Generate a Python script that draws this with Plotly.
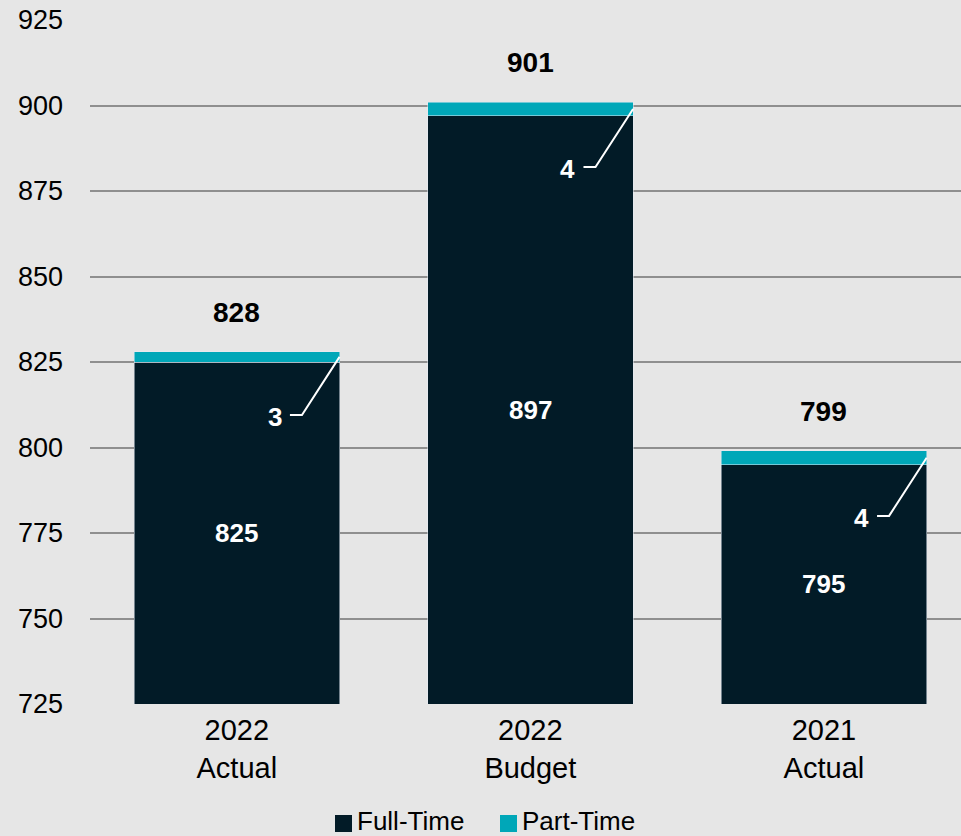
import plotly.graph_objects as go

categories = ["2022<br>Actual", "2022<br>Budget", "2021<br>Actual"]
full_time = [825, 897, 795]
part_time = [3, 4, 4]
totals = [828, 901, 799]
series_names = ["Full-Time", "Part-Time"]

DARK = "#021b27"
TEAL = "#00a7b8"
BG = "#e6e6e6"
FONT = "Arial, Liberation Sans, sans-serif"
BAR_W = 0.7
PLOT_W, PLOT_H = 871, 684

xs = list(range(len(categories)))

fig = go.Figure()
fig.add_trace(go.Bar(x=xs, y=full_time, name=series_names[0], marker_color=DARK,
                     width=BAR_W, hoverinfo="skip"))
fig.add_trace(go.Bar(x=xs, y=part_time, name=series_names[1], marker_color=TEAL,
                     width=BAR_W, hoverinfo="skip"))

annotations = []
for i, (ft, pt, tot) in enumerate(zip(full_time, part_time, totals)):
    # total above the bar
    annotations.append(dict(x=i, y=tot, text=f"<b>{tot}</b>", showarrow=False,
                            yanchor="bottom", yshift=22,
                            font=dict(size=28, color="black", family=FONT)))
    # full-time value in the middle of the visible part
    annotations.append(dict(x=i, y=(725 + ft) / 2, text=f"<b>{ft}</b>", showarrow=False,
                            font=dict(size=26, color="white", family=FONT)))
    # part-time leader line with an elbow
    xr = i + BAR_W / 2
    y_end = ft + pt / 2
    y_elb = y_end - 17
    fig.add_trace(go.Scatter(x=[xr - 0.169, xr - 0.128, xr], y=[y_elb, y_elb, y_end],
                             mode="lines", line=dict(color="white", width=2),
                             showlegend=False, hoverinfo="skip"))
    annotations.append(dict(x=xr - 0.169, y=y_elb, text=f"<b>{pt}</b>", showarrow=False,
                            xanchor="right", xshift=-6, yshift=-2,
                            font=dict(size=26, color="white", family=FONT)))

# custom legend (bigger squares than plotly's built-in legend)
shapes = []
legend_items = [(series_names[0], DARK, 245), (series_names[1], TEAL, 410)]
for name, color, px in legend_items:
    shapes.append(dict(type="rect", xref="paper", yref="paper",
                       x0=px / PLOT_W, x1=(px + 17) / PLOT_W,
                       y0=-111 / PLOT_H, y1=-128 / PLOT_H,
                       fillcolor=color, line=dict(width=0)))
    annotations.append(dict(xref="paper", yref="paper", x=(px + 21) / PLOT_W,
                            y=-117 / PLOT_H, text=name, showarrow=False,
                            xanchor="left", yanchor="middle", borderpad=0,
                            font=dict(size=26, color="black", family=FONT)))

fig.update_layout(
    barmode="stack",
    width=961, height=836,
    margin=dict(l=90, r=0, t=20, b=132),
    paper_bgcolor=BG,
    plot_bgcolor=BG,
    font=dict(family=FONT, size=22, color="black"),
    annotations=annotations,
    shapes=shapes,
    showlegend=False,
    xaxis=dict(range=[-0.5, 2.467], tickmode="array", tickvals=xs, ticktext=categories,
               showgrid=False, zeroline=False, showline=False, ticks="",
               ticklabelstandoff=6,
               tickfont=dict(size=29, color="black")),
    yaxis=dict(range=[725, 925], tickvals=[725, 750, 775, 800, 825, 850, 875, 900, 925],
               showgrid=True, gridcolor="#8f8f8f", gridwidth=2, zeroline=False,
               showline=False, ticks="", ticklabelstandoff=26,
               tickfont=dict(size=27, color="black")),
)

fig.write_html(
    "out.html",
    config={"displayModeBar": False},
    post_script="document.body.style.margin='0';document.body.style.background='%s';" % BG,
)
